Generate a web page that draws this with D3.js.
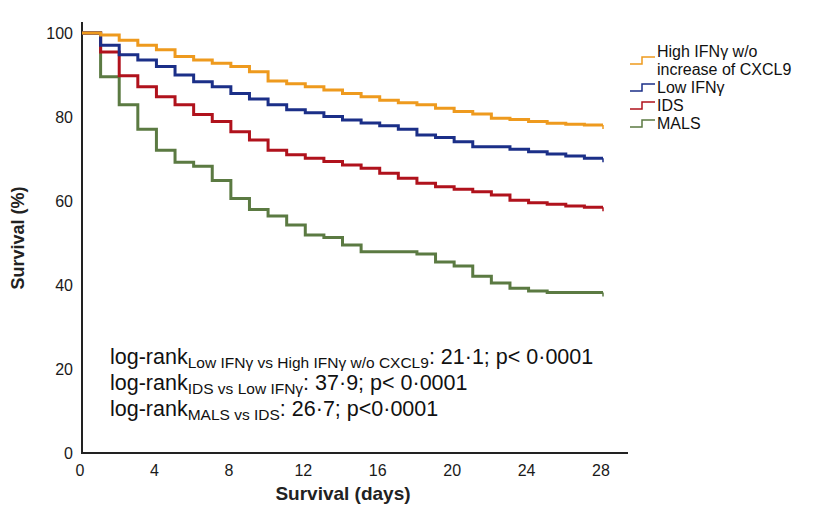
<!DOCTYPE html>
<html>
<head>
<meta charset="utf-8">
<script src="https://cdn.jsdelivr.net/npm/d3@7"></script>
<style>
  body { margin: 0; background: #fff; }
  svg { font-family: "Liberation Sans", Arial, sans-serif; }
</style>
</head>
<body>
<div id="chart"></div>
<script>
// canvas
var svgWidth = 815;
var svgHeight = 518;

// data: survival (%) at each day
var days = d3.range(0, 29);
var seriesNames = ["High IFNγ w/o increase of CXCL9", "Low IFNγ", "IDS", "MALS"];
var seriesColors = ["#EE9A1E", "#1B2F88", "#B0121C", "#5B7A42"];
var highIfng = [100, 99.5, 98.3, 97.1, 96.0, 94.4, 93.6, 92.8, 92.0, 90.8, 88.6, 87.9, 87.2, 86.4, 85.6, 84.8, 84.0, 83.4, 82.9, 82.1, 81.3, 80.7, 79.7, 79.4, 78.9, 78.5, 78.3, 78.1, 78.1];
var lowIfng = [100, 97.1, 94.8, 93.6, 92.0, 90.0, 88.4, 87.2, 85.6, 84.3, 82.9, 81.7, 81.0, 80.1, 79.3, 78.6, 77.9, 77.1, 75.7, 75.1, 74.1, 72.9, 72.9, 72.3, 71.7, 71.2, 70.7, 70.2, 70.2];
var ids = [100, 95.5, 89.8, 87.2, 84.8, 82.9, 80.6, 78.9, 76.5, 74.5, 72.1, 71.0, 70.2, 69.4, 68.6, 67.8, 66.6, 65.4, 64.2, 63.4, 62.8, 62.2, 61.4, 60.2, 59.6, 59.2, 58.8, 58.5, 58.5];
var mals = [100, 89.6, 82.9, 77.1, 72.1, 69.2, 68.3, 64.9, 60.6, 58.0, 56.4, 54.3, 51.9, 51.3, 49.5, 47.9, 47.9, 47.9, 47.4, 45.5, 44.5, 42.1, 40.5, 39.2, 38.6, 38.2, 38.2, 38.2, 38.2];
var allSeries = [highIfng, lowIfng, ids, mals];

var xTicks = [0, 4, 8, 12, 16, 20, 24, 28];
var yTicks = [0, 20, 40, 60, 80, 100];

var svg = d3.select("#chart")
  .append("svg")
  .attr("width", svgWidth)
  .attr("height", svgHeight);

// scales
var xScale = d3.scaleLinear().domain([0, 28]).range([82, 603]);
var yScale = d3.scaleLinear().domain([0, 100]).range([453, 33]);

// axes (lines only, labels drawn below)
svg.append("line")
  .attr("x1", 82).attr("x2", 82)
  .attr("y1", 22).attr("y2", 454)
  .attr("stroke", "#222").attr("stroke-width", 2);
svg.append("line")
  .attr("x1", 81).attr("x2", 628)
  .attr("y1", 453).attr("y2", 453)
  .attr("stroke", "#222").attr("stroke-width", 2);

svg.selectAll(".ytick")
  .data(yTicks)
  .enter()
  .append("text")
  .attr("class", "ytick")
  .attr("x", 73)
  .attr("y", d => yScale(d))
  .attr("dy", "0.35em")
  .attr("text-anchor", "end")
  .attr("font-size", "16px")
  .attr("fill", "#1a1a1a")
  .text(d => d);

svg.selectAll(".xtick")
  .data(xTicks)
  .enter()
  .append("text")
  .attr("class", "xtick")
  .attr("x", d => xScale(d) - 2)
  .attr("y", 470)
  .attr("dy", "0.35em")
  .attr("text-anchor", "middle")
  .attr("font-size", "16px")
  .attr("fill", "#1a1a1a")
  .text(d => d);

// axis titles
svg.append("text")
  .attr("transform", "translate(24, 238) rotate(-90)")
  .attr("text-anchor", "middle")
  .attr("font-size", "18px")
  .attr("font-weight", "bold")
  .attr("fill", "#222")
  .text("Survival (%)");

svg.append("text")
  .attr("x", 343)
  .attr("y", 500)
  .attr("text-anchor", "middle")
  .attr("font-size", "19px")
  .attr("font-weight", "bold")
  .attr("fill", "#222")
  .text("Survival (days)");

// survival curves
var line = d3.line()
  .x((d, i) => xScale(days[i]))
  .y(d => yScale(d))
  .curve(d3.curveStepAfter);

// draw from bottom to top so orange sits on top
[3, 2, 1, 0].forEach(function(k) {
  svg.append("path")
    .datum(allSeries[k])
    .attr("d", line)
    .attr("fill", "none")
    .attr("stroke", seriesColors[k])
    .attr("stroke-width", 3);
  // censor tick at the end
  var last = allSeries[k][allSeries[k].length - 1];
  svg.append("line")
    .attr("x1", xScale(28)).attr("x2", xScale(28))
    .attr("y1", yScale(last)).attr("y2", yScale(last) + 4)
    .attr("stroke", seriesColors[k])
    .attr("stroke-width", 1.5);
});

// legend
var legendRows = [
  {lines: ["High IFNγ w/o", "increase of CXCL9"], y: 51},
  {lines: ["Low IFNγ"], y: 87},
  {lines: ["IDS"], y: 105},
  {lines: ["MALS"], y: 123}
];
legendRows.forEach(function(row, i) {
  var gy = row.lines.length > 1 ? row.y + 9 : row.y;
  svg.append("path")
    .attr("d", `M630,${gy + 4}H642V${gy - 3}H655`)
    .attr("fill", "none")
    .attr("stroke", seriesColors[i])
    .attr("stroke-width", 1.5);
  row.lines.forEach(function(t, j) {
    svg.append("text")
      .attr("x", 657)
      .attr("y", row.y + j * 18)
      .attr("dy", "0.35em")
      .attr("font-size", "16px")
      .attr("fill", "#111")
      .text(t);
  });
});

// log-rank annotation
var notes = [
  {sub: "Low IFNγ vs High IFNγ w/o CXCL9", rest: ": 21·1; p< 0·0001"},
  {sub: "IDS vs Low IFNγ", rest: ": 37·9; p< 0·0001"},
  {sub: "MALS vs IDS", rest: ": 26·7; p<0·0001"}
];
notes.forEach(function(n, i) {
  var t = svg.append("text")
    .attr("x", 110)
    .attr("y", 364 + i * 26)
    .attr("font-size", "21.5px")
    .attr("fill", "#111");
  t.append("tspan").text("log-rank");
  t.append("tspan").attr("font-size", "15.5px").attr("dy", 4).text(n.sub);
  t.append("tspan").attr("dy", -4).text(n.rest);
});
</script>
</body>
</html>
